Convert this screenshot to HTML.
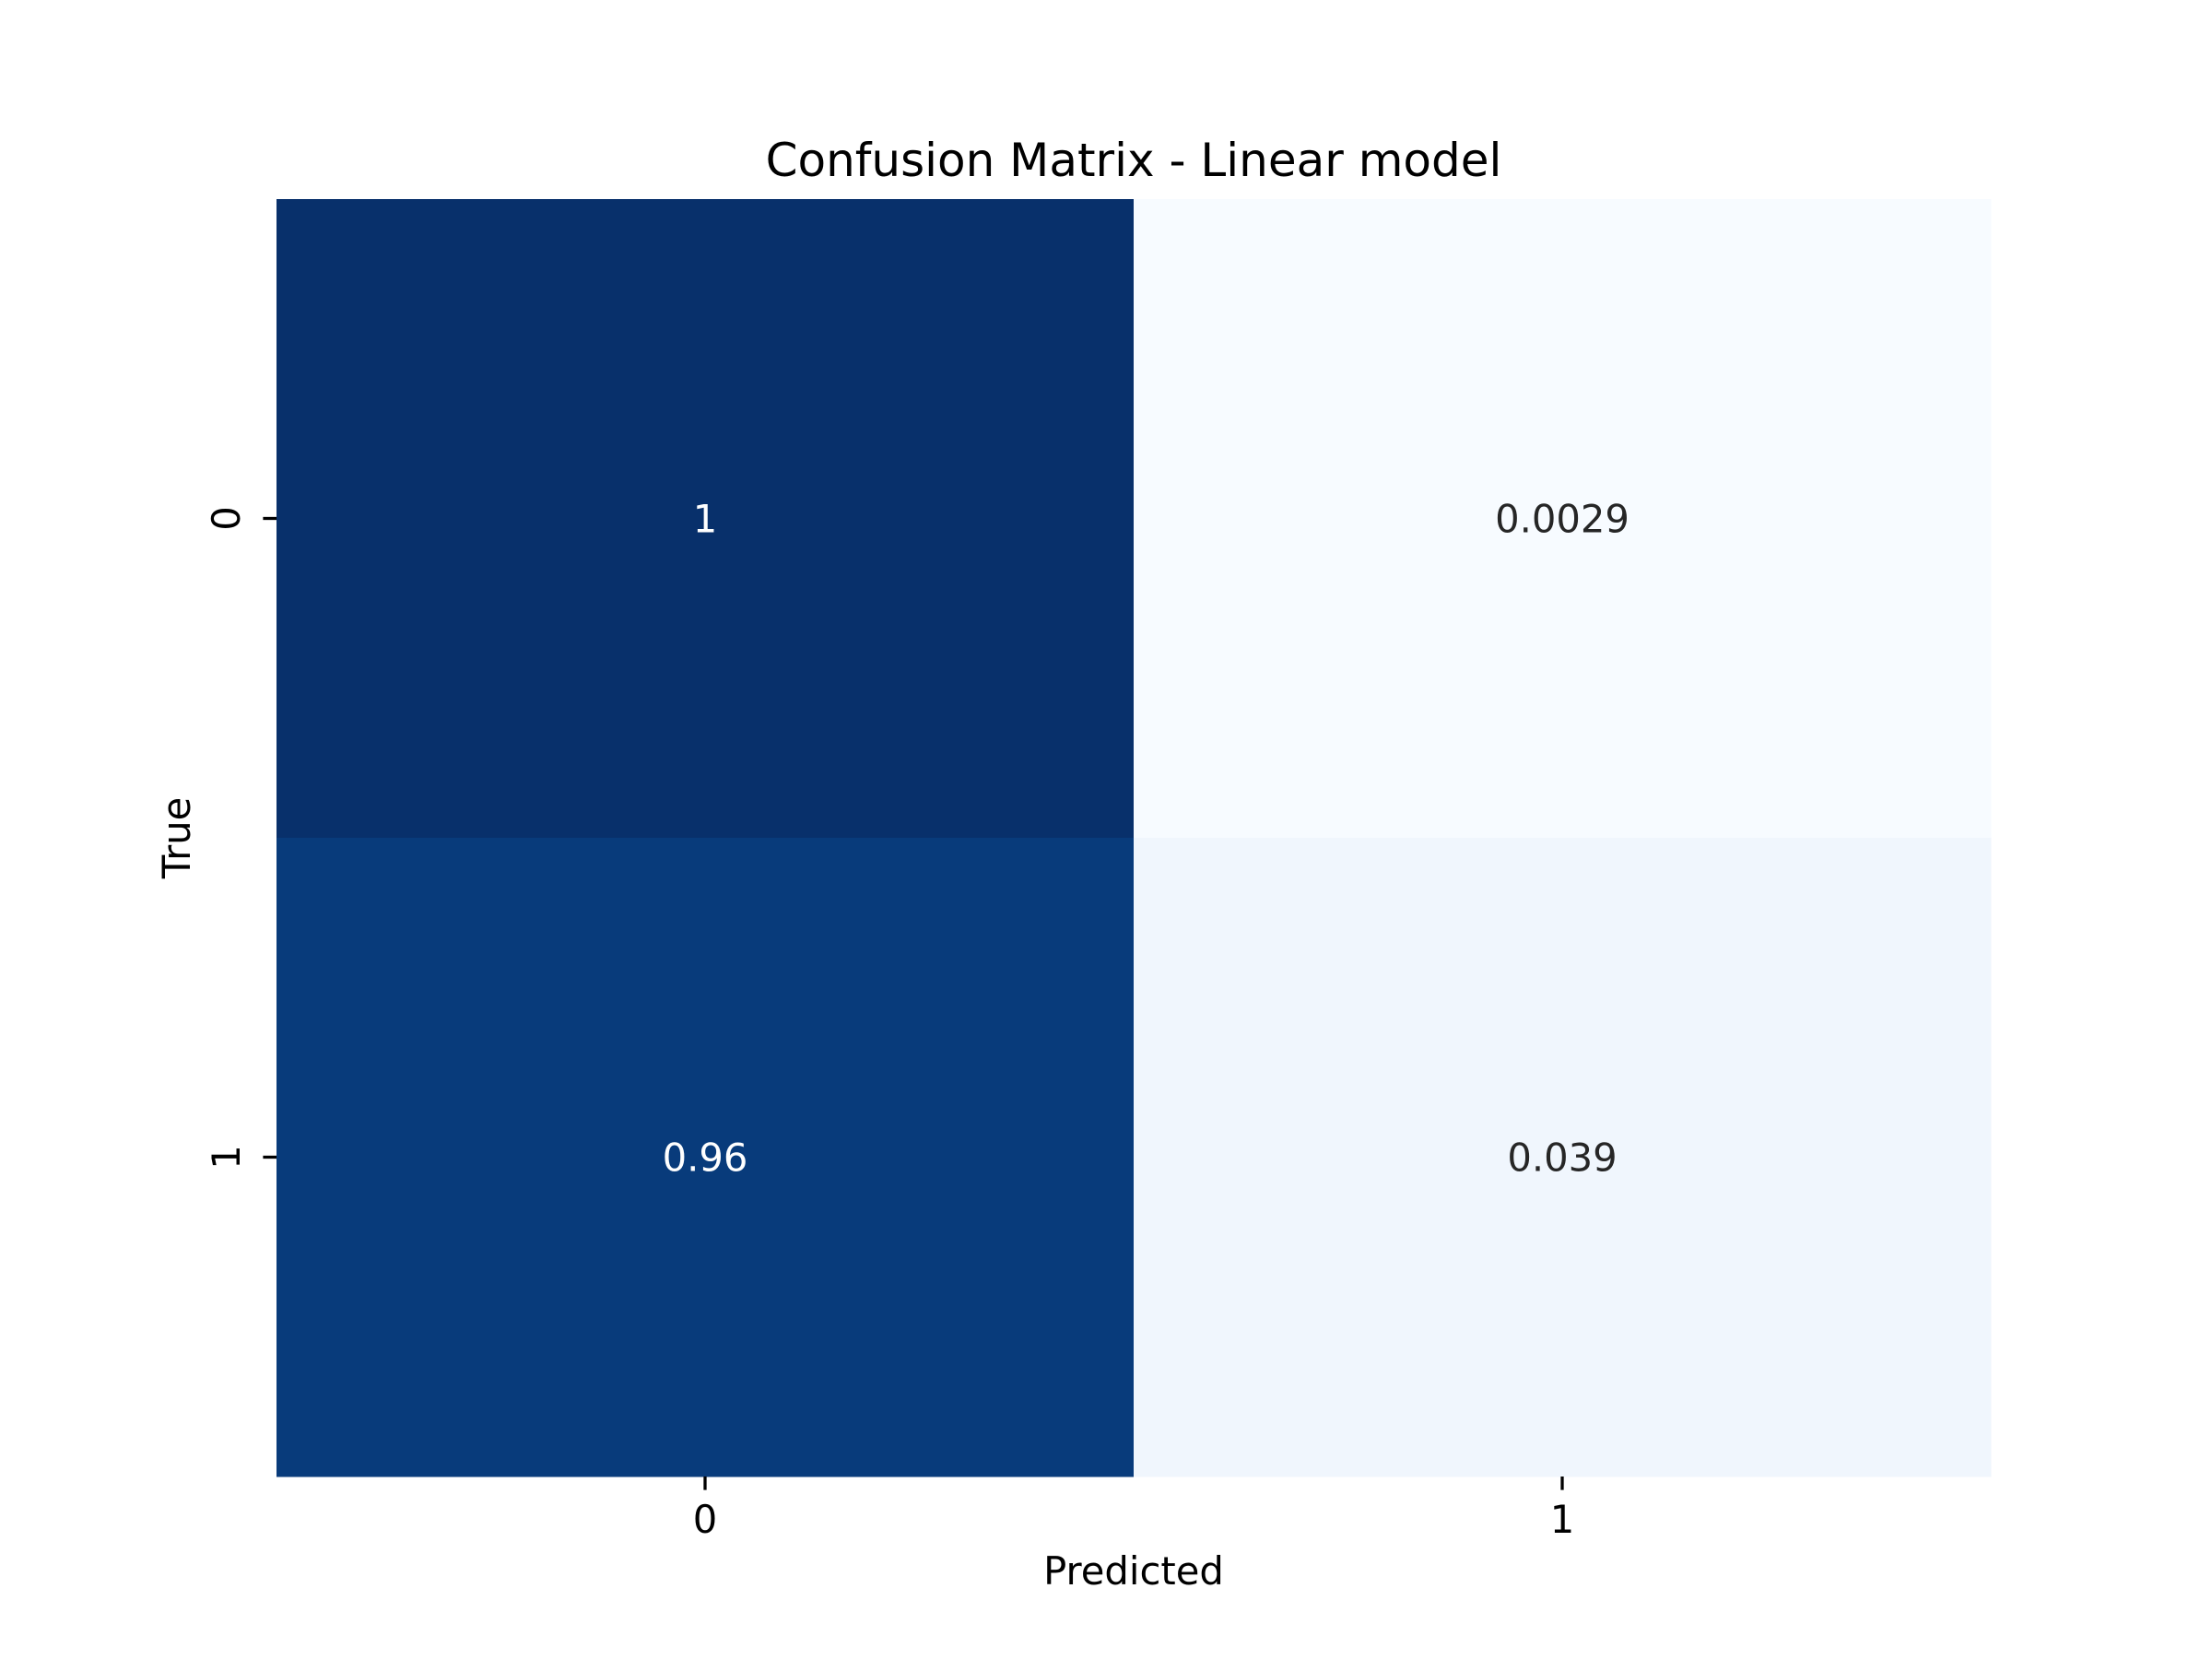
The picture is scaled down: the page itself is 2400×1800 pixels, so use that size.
<!DOCTYPE html>
<html><head><meta charset="utf-8"><style>
html,body{margin:0;padding:0;background:#fff}
svg{display:block}
text{font-family:"DejaVu Sans","Liberation Sans",sans-serif}
</style></head><body>
<svg id="chart" width="2400" height="1800" viewBox="0 0 2400 1800" xmlns="http://www.w3.org/2000/svg">
<rect width="2400" height="1800" fill="#fff"/>
<text x="1230" y="191" font-size="50" text-anchor="middle" fill="#000">Confusion Matrix - Linear model</text>
<g id="cells"></g>
<g id="axes"></g>
<text x="1230" y="1719" font-size="41.7" text-anchor="middle" fill="#000">Predicted</text>
<text x="0" y="0" font-size="41.7" text-anchor="middle" fill="#000" transform="translate(206,909) rotate(-90)">True</text>
</svg>
<script>
const xCategories = ["0", "1"];
const yCategories = ["0", "1"];
const matrixValues = [[1, 0.0029], [0.96, 0.039]];
const cellLabels = [["1", "0.0029"], ["0.96", "0.039"]];

const NS = "http://www.w3.org/2000/svg";
const L = 300, R = 2160, T = 216, B = 1602;
const cw = (R - L) / xCategories.length, ch = (B - T) / yCategories.length;
const xPos = i => L + i * cw;
const yPos = j => T + j * ch;
let vmin = Infinity, vmax = -Infinity;
matrixValues.forEach(r => r.forEach(v => { vmin = Math.min(vmin, v); vmax = Math.max(vmax, v); }));
const stops = [[0,[247,251,255]],[0.125,[222,235,247]],[0.25,[198,219,239]],[0.375,[158,202,225]],[0.5,[107,174,214]],[0.625,[66,146,198]],[0.75,[33,113,181]],[0.875,[8,81,156]],[1,[8,48,107]]];
function blues(t){
  t = Math.max(0, Math.min(1, t));
  for (let k = 1; k < stops.length; k++) {
    if (t <= stops[k][0]) {
      const a = stops[k-1], b = stops[k], f = (t - a[0]) / (b[0] - a[0]);
      const c = a[1].map((v, i) => Math.round(v + (b[1][i] - v) * f));
      return { css: `rgb(${c[0]},${c[1]},${c[2]})`, lum: 0.299*c[0] + 0.587*c[1] + 0.114*c[2] };
    }
  }
}
const cells = document.getElementById('cells');
matrixValues.forEach((row, j) => row.forEach((v, i) => {
  const col = blues((v - vmin) / (vmax - vmin));
  const r = document.createElementNS(NS, 'rect');
  r.setAttribute('x', xPos(i)); r.setAttribute('y', yPos(j));
  r.setAttribute('width', cw + 0.5); r.setAttribute('height', ch + 0.5);
  r.setAttribute('fill', col.css);
  
  
  cells.appendChild(r);
  const t = document.createElementNS(NS, 'text');
  t.setAttribute('x', xPos(i) + cw / 2); t.setAttribute('y', yPos(j) + ch / 2 + 15);
  t.setAttribute('font-size', '41.7'); t.setAttribute('text-anchor', 'middle');
  t.setAttribute('fill', col.lum < 128 ? '#fff' : '#262626');
  t.textContent = cellLabels[j][i];
  
  
  cells.appendChild(t);
}));
const axes = document.getElementById('axes');
xCategories.forEach((c, i) => {
  const x = xPos(i) + cw / 2;
  const l = document.createElementNS(NS, 'line');
  l.setAttribute('x1', x); l.setAttribute('x2', x); l.setAttribute('y1', B); l.setAttribute('y2', B + 14.6);
  l.setAttribute('stroke', '#000'); l.setAttribute('stroke-width', '3.3');
  
  
  axes.appendChild(l);
  const t = document.createElementNS(NS, 'text');
  t.setAttribute('x', x); t.setAttribute('y', B + 61);
  t.setAttribute('font-size', '41.7'); t.setAttribute('text-anchor', 'middle');
  t.textContent = c;
  
  
  axes.appendChild(t);
});
yCategories.forEach((c, j) => {
  const y = yPos(j) + ch / 2;
  const l = document.createElementNS(NS, 'line');
  l.setAttribute('x1', L - 14.6); l.setAttribute('x2', L); l.setAttribute('y1', y); l.setAttribute('y2', y);
  l.setAttribute('stroke', '#000'); l.setAttribute('stroke-width', '3.3');
  
  
  axes.appendChild(l);
  const t = document.createElementNS(NS, 'text');
  t.setAttribute('x', 0); t.setAttribute('y', 0);
  t.setAttribute('font-size', '41.7'); t.setAttribute('text-anchor', 'middle');
  t.setAttribute('transform', `translate(260,${y}) rotate(-90)`);
  t.textContent = c;
  
  
  axes.appendChild(t);
});
</script>
</body></html>
